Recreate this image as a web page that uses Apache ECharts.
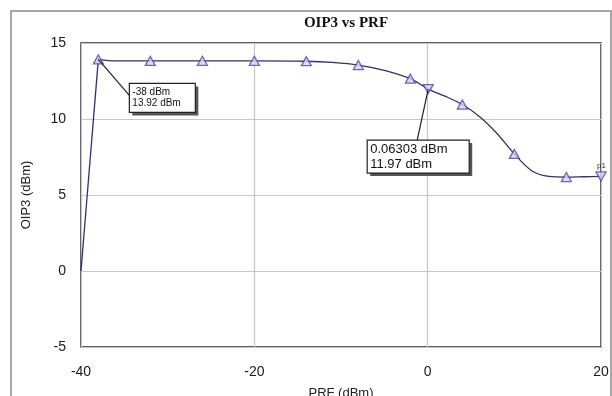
<!DOCTYPE html>
<html>
<head>
<meta charset="utf-8">
<script src="https://cdn.jsdelivr.net/npm/echarts@6/dist/echarts.min.js"></script>
<style>
html,body{margin:0;padding:0;background:#fff;}
#c{width:612px;height:396px;}
</style>
</head>
<body>
<div id="c"></div>
<script>
// Sweep data (PRF in dBm, OIP3 in dBm)
const prf  = [-40, -38, -36, -32, -26, -20, -14, -11, -8, -5, -2, 0.06303, 2, 4, 6, 8, 10, 12, 14, 16, 18, 20];
const oip3 = [0, 13.92, 13.82, 13.82, 13.83, 13.83, 13.8, 13.72, 13.55, 13.2, 12.65, 11.97, 11.5, 10.95, 10.15, 9.05, 7.7, 6.6, 6.22, 6.18, 6.2, 6.22];
// Triangle symbol positions
const markPrf  = [-38, -32, -26, -20, -14, -8, -2, 4, 10, 16];
const markOip3 = [13.92, 13.82, 13.83, 13.83, 13.8, 13.55, 12.65, 10.95, 7.7, 6.18];
// Down-triangle markers
const mkPrf  = [0.06303, 20];
const mkOip3 = [11.97, 6.22];
// Ticks
const xTicks = [-40, -20, 0, 20];
const yTicks = [-5, 0, 5, 10, 15];
// Annotation texts
const ann1 = ['-38 dBm', '13.92 dBm'];
const ann2 = ['0.06303 dBm', '11.97 dBm'];

const lineColor = '#2e3270';
const symBorder = '#4646a6';
const symFill = '#d4d4f2';

const chart = echarts.init(document.getElementById('c'), null, {renderer: 'canvas'});

const rampData = [[prf[0], oip3[0]], [prf[1], oip3[1]]];
const curveData = prf.slice(1).map((x, i) => [x, oip3[i + 1]]);

const labelFont = {fontFamily: 'Liberation Sans', fontSize: 14, color: '#1a1a1a'};

const option = {
  backgroundColor: '#ffffff',
  animation: false,
  title: {
    text: 'OIP3 vs PRF',
    left: 341, top: 11, textAlign: 'center',
    textStyle: {fontFamily: 'Liberation Serif', fontWeight: 'bold', fontSize: 15, color: '#111'}
  },
  grid: {left: 81, top: 43, width: 520, height: 304, outerBoundsMode: 'none', containLabel: false,
         show: true, borderColor: '#2a2a2a', borderWidth: 1.5, backgroundColor: '#fff'},
  xAxis: {
    type: 'value', min: xTicks[0], max: xTicks[xTicks.length - 1], interval: 20,
    name: 'PRF (dBm)', nameLocation: 'middle', nameGap: 40,
    nameTextStyle: {fontFamily: 'Liberation Sans', fontSize: 13, color: '#222'},
    axisLine: {show: false}, axisTick: {show: false},
    axisLabel: Object.assign({margin: 18}, labelFont),
    splitLine: {show: true, lineStyle: {color: '#c6c6c6', width: 1.2}}
  },
  yAxis: {
    type: 'value', min: yTicks[0], max: yTicks[yTicks.length - 1], interval: 5,
    name: 'OIP3 (dBm)', nameLocation: 'middle', nameGap: 48, nameRotate: 90,
    nameTextStyle: {fontFamily: 'Liberation Sans', fontSize: 13, color: '#222'},
    axisLine: {show: false}, axisTick: {show: false},
    axisLabel: Object.assign({margin: 15}, labelFont),
    splitLine: {show: true, lineStyle: {color: '#c6c6c6', width: 1.2}}
  },
  series: [
    {type: 'line', data: rampData, showSymbol: false, lineStyle: {color: lineColor, width: 1.3}, z: 3},
    {type: 'line', data: curveData, smooth: 0.3, showSymbol: false,
     lineStyle: {color: lineColor, width: 1.3}, z: 3},
    {type: 'scatter', data: markPrf.map((x, i) => [x, markOip3[i]]), symbol: 'triangle', symbolSize: [10, 9],
     itemStyle: {color: symFill, borderColor: symBorder, borderWidth: 1.3}, z: 4},
    {type: 'scatter', data: mkPrf.map((x, i) => [x, mkOip3[i]]), symbol: 'triangle', symbolRotate: 180, symbolSize: [10, 9],
     itemStyle: {color: symFill, borderColor: symBorder, borderWidth: 1.3}, z: 4}
  ]
};
chart.setOption(option);

function box(pt, dx, dy, w, h, lx, ly, lines, fs, lh) {
  const x0 = pt[0] + dx, y0 = pt[1] + dy;
  return [
    {type: 'line', shape: {x1: pt[0], y1: pt[1], x2: pt[0] + lx, y2: pt[1] + ly}, style: {stroke: '#222', lineWidth: 1.2}, z: 10},
    {type: 'rect', shape: {x: x0 + 3, y: y0 + 3, width: w, height: h}, style: {fill: '#555'}, z: 10},
    {type: 'rect', shape: {x: x0, y: y0, width: w, height: h}, style: {fill: '#fff', stroke: '#222', lineWidth: 1.2}, z: 11},
    {type: 'text', x: x0 + 3, y: y0 + (h - lh * lines.length) / 2, style: {text: lines.join('\n'), fontFamily: 'Liberation Sans', fontSize: fs, lineHeight: lh, fill: '#111'}, z: 12}
  ];
}

const p1 = chart.convertToPixel({gridIndex: 0}, [markPrf[0], markOip3[0]]);
const p2 = chart.convertToPixel({gridIndex: 0}, [mkPrf[0], mkOip3[0]]);
const p3 = chart.convertToPixel({gridIndex: 0}, [mkPrf[1], mkOip3[1]]);

const g = [].concat(
  box(p1, 31, 24, 66, 29, 31, 36, ann1, 10, 11),
  box(p2, -61, 51, 102, 33, -11, 51, ann2, 13, 15),
  [{type: 'text', x: p3[0] - 4, y: p3[1] - 15, style: {text: 'p1', fontFamily: 'Liberation Sans', fontSize: 8, fill: '#333'}, z: 12},
   {type: 'rect', shape: {x: 11, y: 11, width: 600, height: 400}, style: {fill: 'none', stroke: '#8a8a8a', lineWidth: 1.5}, z: 0, silent: true}]
);
chart.setOption({graphic: g});
</script>
</body>
</html>
